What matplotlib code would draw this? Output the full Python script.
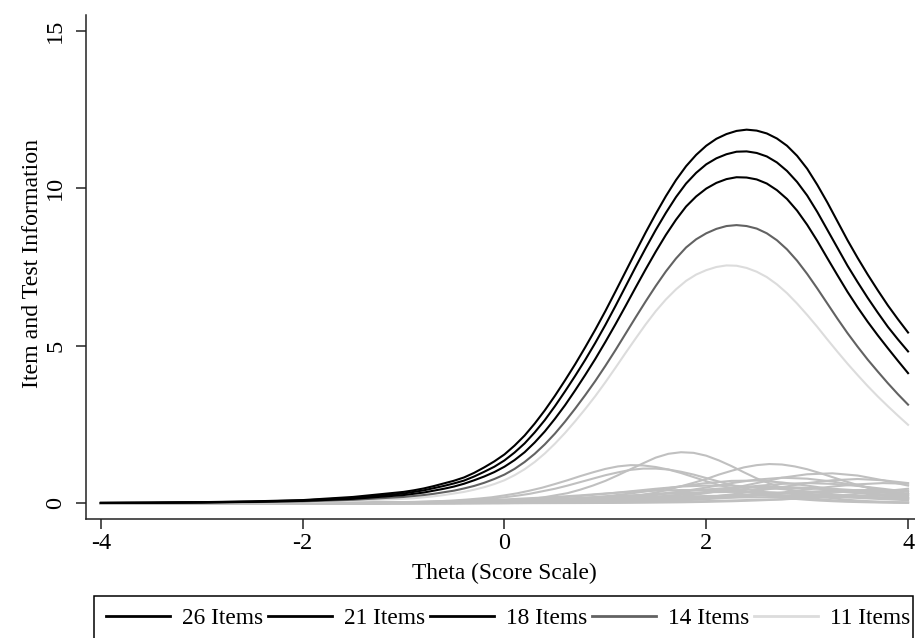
import matplotlib
matplotlib.use("Agg")
import matplotlib.pyplot as plt

plt.rcParams['font.family'] = ['Liberation Serif', 'DejaVu Serif']

# test information curves (theta grid and information per test length)
theta_test = [-4.0, -3.5, -3.0, -2.5, -2.0, -1.5,
              -1.0, -0.9, -0.8, -0.7, -0.6, -0.5, -0.4, -0.3, -0.2, -0.1,
              0.0, 0.1, 0.2, 0.3, 0.4, 0.5, 0.6, 0.7, 0.8, 0.9,
              1.0, 1.1, 1.2, 1.3, 1.4, 1.5, 1.6, 1.7, 1.8, 1.9,
              2.0, 2.1, 2.2, 2.3, 2.4, 2.5, 2.6, 2.7, 2.8, 2.9,
              3.0, 3.1, 3.2, 3.3, 3.4, 3.5, 3.6, 3.7, 3.8, 3.9, 4.0]
info_26 = [0.012, 0.02, 0.035, 0.06, 0.10, 0.20,
           0.36, 0.41, 0.47, 0.545, 0.63, 0.715, 0.82, 0.966, 1.14, 1.33,
           1.55, 1.83, 2.15, 2.53, 2.95, 3.41, 3.90, 4.41, 4.95, 5.51,
           6.10, 6.72, 7.35, 7.98, 8.60, 9.19, 9.75, 10.26, 10.70, 11.06,
           11.35, 11.57, 11.72, 11.82, 11.86, 11.83, 11.74, 11.58, 11.35, 11.03,
           10.62, 10.11, 9.55, 8.95, 8.35, 7.79, 7.26, 6.76, 6.28, 5.84, 5.42]
info_21 = [0.011, 0.018, 0.03, 0.05, 0.09, 0.17,
           0.31, 0.36, 0.41, 0.48, 0.55, 0.63, 0.72, 0.85, 1.00, 1.16,
           1.36, 1.61, 1.90, 2.25, 2.64, 3.08, 3.55, 4.04, 4.55, 5.09,
           5.66, 6.26, 6.88, 7.50, 8.10, 8.68, 9.22, 9.72, 10.15, 10.49,
           10.76, 10.95, 11.08, 11.16, 11.17, 11.12, 11.01, 10.82, 10.55, 10.20,
           9.77, 9.25, 8.68, 8.11, 7.54, 7.02, 6.52, 6.05, 5.60, 5.20, 4.82]
info_18 = [0.01, 0.015, 0.025, 0.045, 0.075, 0.14,
           0.26, 0.30, 0.34, 0.40, 0.46, 0.53, 0.62, 0.73, 0.85, 0.99,
           1.16, 1.37, 1.62, 1.93, 2.28, 2.68, 3.11, 3.58, 4.07, 4.58,
           5.12, 5.68, 6.26, 6.85, 7.43, 7.99, 8.52, 9.00, 9.42, 9.74,
           9.99, 10.17, 10.29, 10.35, 10.34, 10.28, 10.15, 9.94, 9.66, 9.29,
           8.84, 8.33, 7.78, 7.24, 6.71, 6.22, 5.76, 5.33, 4.92, 4.52, 4.13]
info_14 = [0.008, 0.012, 0.02, 0.035, 0.06, 0.11,
           0.20, 0.23, 0.26, 0.30, 0.35, 0.40, 0.47, 0.55, 0.65, 0.77,
           0.91, 1.09, 1.31, 1.57, 1.87, 2.21, 2.59, 3.00, 3.43, 3.88,
           4.36, 4.86, 5.38, 5.90, 6.41, 6.90, 7.36, 7.77, 8.12, 8.38,
           8.57, 8.71, 8.80, 8.83, 8.80, 8.72, 8.57, 8.35, 8.06, 7.70,
           7.28, 6.82, 6.34, 5.86, 5.40, 4.97, 4.56, 4.18, 3.81, 3.46, 3.13]
info_11 = [0.006, 0.009, 0.015, 0.025, 0.045, 0.08,
           0.14, 0.16, 0.19, 0.22, 0.26, 0.31, 0.36, 0.43, 0.51, 0.61,
           0.73, 0.89, 1.08, 1.31, 1.58, 1.89, 2.23, 2.60, 2.99, 3.40,
           3.84, 4.30, 4.77, 5.23, 5.68, 6.10, 6.47, 6.79, 7.06, 7.26,
           7.40, 7.50, 7.55, 7.54, 7.47, 7.35, 7.18, 6.95, 6.67, 6.34,
           5.98, 5.60, 5.20, 4.81, 4.43, 4.07, 3.72, 3.39, 3.08, 2.78, 2.49]

test_labels = ['26 Items', '21 Items', '18 Items', '14 Items', '11 Items']
test_colors = ['black', 'black', 'black', '#626262', '#dcdcdc']

# item information: the four most discriminating items on a fine grid
theta_fine = [-4.0, -3.0, -2.0, -1.5,
              -1.0, -0.875, -0.75, -0.625, -0.5, -0.375, -0.25, -0.125,
              0.0, 0.125, 0.25, 0.375, 0.5, 0.625, 0.75, 0.875,
              1.0, 1.125, 1.25, 1.375, 1.5, 1.625, 1.75, 1.875,
              2.0, 2.125, 2.25, 2.375, 2.5, 2.625, 2.75, 2.875,
              3.0, 3.125, 3.25, 3.375, 3.5, 3.625, 3.75, 3.875, 4.0]
item_fine = [
    [0, 0, 0, 0.002,
     0.006, 0.009, 0.012, 0.016, 0.022, 0.030, 0.041, 0.055,
     0.074, 0.10, 0.135, 0.18, 0.25, 0.32, 0.43, 0.56,
     0.71, 0.89, 1.08, 1.27, 1.45, 1.57, 1.62, 1.60,
     1.51, 1.36, 1.18, 0.98, 0.79, 0.63, 0.49, 0.37,
     0.28, 0.21, 0.16, 0.116, 0.086, 0.063, 0.046, 0.034, 0.025],
    [0, 0, 0.003, 0.010,
     0.031, 0.040, 0.052, 0.068, 0.089, 0.116, 0.15, 0.19,
     0.25, 0.315, 0.40, 0.495, 0.61, 0.73, 0.86, 0.98,
     1.09, 1.17, 1.21, 1.20, 1.15, 1.07, 0.96, 0.83,
     0.70, 0.58, 0.47, 0.38, 0.30, 0.24, 0.18, 0.14,
     0.11, 0.084, 0.065, 0.049, 0.038, 0.029, 0.022, 0.017, 0.013],
    [0, 0, 0.003, 0.009,
     0.026, 0.033, 0.043, 0.055, 0.069, 0.091, 0.118, 0.15,
     0.19, 0.24, 0.30, 0.38, 0.46, 0.56, 0.67, 0.78,
     0.89, 0.98, 1.06, 1.10, 1.10, 1.07, 1.00, 0.91,
     0.80, 0.69, 0.58, 0.48, 0.39, 0.32, 0.25, 0.20,
     0.16, 0.124, 0.097, 0.075, 0.058, 0.045, 0.035, 0.027, 0.021],
    [0, 0, 0, 0.001,
     0.002, 0.002, 0.003, 0.004, 0.005, 0.006, 0.008, 0.011,
     0.014, 0.019, 0.026, 0.033, 0.043, 0.058, 0.074, 0.096,
     0.12, 0.16, 0.21, 0.27, 0.34, 0.43, 0.54, 0.65,
     0.77, 0.91, 1.03, 1.14, 1.21, 1.245, 1.23, 1.17,
     1.08, 0.96, 0.83, 0.70, 0.58, 0.467, 0.37, 0.295, 0.23],
]

# remaining items on a coarser grid
theta_item = [-4.0, -3.0, -2.0, -1.5, -1.0, -0.5, 0.0, 0.25, 0.5, 0.75, 1.0,
              1.25, 1.5, 1.75, 2.0, 2.25, 2.5, 2.75, 3.0, 3.25, 3.5, 3.75, 4.0]
item_info = [
    [0, 0, 0, 0, 0.001, 0.003, 0.008, 0.014, 0.022, 0.036, 0.057, 0.09, 0.14, 0.21, 0.32, 0.47, 0.64, 0.81, 0.92, 0.95, 0.88, 0.73, 0.56],
    [0, 0, 0.001, 0.001, 0.004, 0.008, 0.021, 0.032, 0.050, 0.077, 0.12, 0.18, 0.26, 0.37, 0.50, 0.64, 0.75, 0.81, 0.78, 0.69, 0.56, 0.42, 0.30],
    [0, 0, 0, 0, 0.001, 0.003, 0.007, 0.010, 0.016, 0.025, 0.038, 0.057, 0.087, 0.13, 0.19, 0.28, 0.39, 0.51, 0.64, 0.73, 0.77, 0.73, 0.64],
    [0, 0, 0.002, 0.004, 0.009, 0.020, 0.047, 0.071, 0.11, 0.16, 0.22, 0.31, 0.42, 0.54, 0.64, 0.71, 0.72, 0.66, 0.56, 0.45, 0.33, 0.24, 0.17],
    [0, 0.001, 0.005, 0.010, 0.021, 0.044, 0.089, 0.12, 0.17, 0.23, 0.30, 0.38, 0.46, 0.53, 0.56, 0.56, 0.51, 0.45, 0.37, 0.29, 0.22, 0.16, 0.12],
    [0, 0, 0, 0, 0.001, 0.002, 0.006, 0.009, 0.013, 0.019, 0.028, 0.042, 0.062, 0.089, 0.13, 0.18, 0.25, 0.34, 0.44, 0.53, 0.60, 0.64, 0.62],
    [0, 0.001, 0.002, 0.004, 0.008, 0.017, 0.033, 0.046, 0.064, 0.088, 0.12, 0.16, 0.21, 0.27, 0.34, 0.40, 0.45, 0.48, 0.49, 0.46, 0.41, 0.35, 0.28],
    [0.001, 0.003, 0.011, 0.020, 0.037, 0.068, 0.12, 0.16, 0.20, 0.25, 0.31, 0.36, 0.40, 0.42, 0.42, 0.40, 0.36, 0.32, 0.26, 0.21, 0.17, 0.13, 0.097],
    [0, 0.001, 0.002, 0.005, 0.008, 0.015, 0.026, 0.035, 0.047, 0.061, 0.081, 0.10, 0.13, 0.17, 0.21, 0.25, 0.29, 0.32, 0.35, 0.36, 0.355, 0.335, 0.30],
    [0, 0, 0.001, 0.002, 0.003, 0.005, 0.008, 0.011, 0.014, 0.019, 0.025, 0.032, 0.042, 0.053, 0.068, 0.087, 0.11, 0.13, 0.16, 0.19, 0.23, 0.26, 0.28],
    [0.001, 0.004, 0.010, 0.016, 0.026, 0.041, 0.064, 0.079, 0.097, 0.12, 0.14, 0.16, 0.19, 0.21, 0.23, 0.24, 0.25, 0.249, 0.24, 0.225, 0.205, 0.18, 0.16],
    [0, 0, 0, 0, 0.001, 0.001, 0.002, 0.003, 0.005, 0.007, 0.010, 0.015, 0.021, 0.030, 0.044, 0.063, 0.089, 0.12, 0.17, 0.23, 0.30, 0.38, 0.46],
    [0.001, 0.002, 0.008, 0.015, 0.026, 0.047, 0.081, 0.10, 0.13, 0.17, 0.21, 0.25, 0.29, 0.32, 0.35, 0.36, 0.355, 0.335, 0.30, 0.26, 0.22, 0.18, 0.15],
    [0.001, 0.004, 0.009, 0.014, 0.021, 0.032, 0.048, 0.058, 0.070, 0.083, 0.099, 0.115, 0.13, 0.15, 0.17, 0.18, 0.19, 0.20, 0.20, 0.20, 0.19, 0.18, 0.17],
    [0, 0, 0.001, 0.002, 0.004, 0.009, 0.021, 0.031, 0.045, 0.067, 0.097, 0.14, 0.195, 0.27, 0.36, 0.46, 0.55, 0.615, 0.64, 0.615, 0.55, 0.46, 0.36],
    [0, 0, 0.001, 0.002, 0.004, 0.008, 0.015, 0.021, 0.029, 0.040, 0.054, 0.072, 0.097, 0.128, 0.167, 0.212, 0.263, 0.316, 0.364, 0.40, 0.42, 0.42, 0.395],
    [0, 0.001, 0.003, 0.005, 0.011, 0.023, 0.047, 0.066, 0.091, 0.126, 0.171, 0.228, 0.295, 0.368, 0.437, 0.493, 0.523, 0.519, 0.483, 0.426, 0.353, 0.281, 0.216],
]

W, H = 915, 638
fig = plt.figure(figsize=(W / 100, H / 100), dpi=100)
ax = fig.add_axes([85.7 / W, 1 - 519 / H, 837.5 / W, 504 / H])

item_color = '#c0c0c0'
for vals in item_fine:
    ax.plot(theta_fine, vals, color=item_color, lw=1.5)
for vals in item_info:
    ax.plot(theta_item, vals, color=item_color, lw=1.5)

test_series = [info_26, info_21, info_18, info_14, info_11]
handles = []
for vals, lab, col in reversed(list(zip(test_series, test_labels, test_colors))):
    ln, = ax.plot(theta_test, vals, color=col, lw=1.5, label=lab)
    handles.append(ln)
handles = handles[::-1]

ax.set_xlim(-4.15, 4.15)
ax.set_ylim(-0.5, 15.5)
ax.set_xticks([-4, -2, 0, 2, 4])
ax.set_yticks([0, 5, 10, 15])
ax.set_xticklabels(['-4', '-2', '0', '2', '4'])

for side in ['top', 'right']:
    ax.spines[side].set_visible(False)
for side in ['left', 'bottom']:
    ax.spines[side].set_linewidth(1.1)
    ax.spines[side].set_color('#222222')

ax.tick_params(axis='both', direction='out', length=7, width=1.1,
               color='#222222', labelsize=17.5)
ax.tick_params(axis='x', pad=3)
ax.tick_params(axis='y', pad=7)
for lbl in ax.get_yticklabels():
    lbl.set_rotation(90)
    lbl.set_va('center')
    lbl.set_ha('right')

fig.text(33 / W, 1 - 263 / H, 'Item and Test Information', rotation=90,
         ha='center', va='center', fontsize=17.2)
fig.text(504 / W, 1 - 573 / H, 'Theta (Score Scale)', ha='center', va='center',
         fontsize=16.8)

# legend row below the plot; its box runs off the bottom edge
leg = fig.legend(handles, test_labels, loc='upper left',
                 bbox_to_anchor=(94 / W, 1 - 596 / H), ncol=5, fontsize=16.8,
                 frameon=False, handlelength=2.75, handletextpad=0.5,
                 columnspacing=0.22, borderpad=0.5, borderaxespad=0)
for ln in leg.get_lines():
    ln.set_linewidth(2.0)
box = plt.Rectangle((94 / W, -0.05), (913 - 94) / W, 0.05 + 42 / H,
                    transform=fig.transFigure, fill=False, edgecolor='black',
                    linewidth=1.1)
fig.add_artist(box)

fig.savefig('out.png', dpi=100)
